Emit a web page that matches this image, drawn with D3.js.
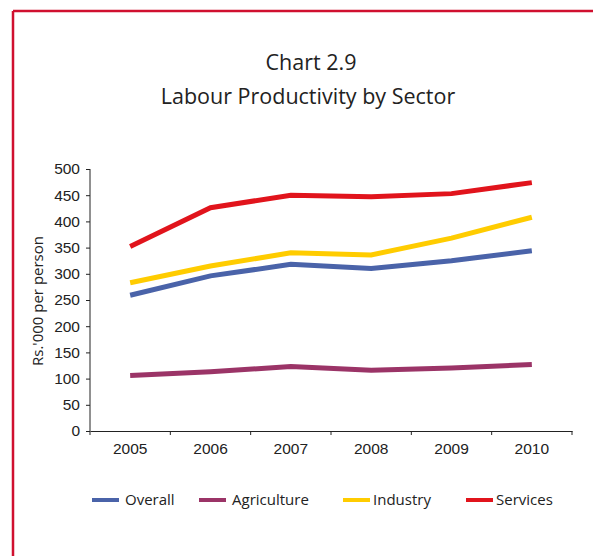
<!DOCTYPE html>
<html>
<head>
<meta charset="utf-8">
<script src="https://cdn.jsdelivr.net/npm/d3@7"></script>
<style>
  body { margin: 0; background: #fff; }
  svg { font-family: "Open Sans", "Noto Sans", sans-serif; }
  .axis path, .axis line { stroke: #222; }
  .axis text { font-size: 15.5px; fill: #222; }
</style>
</head>
<body>
<div id="chart"></div>
<script>
// values
let years = ['2005', '2006', '2007', '2008', '2009', '2010']
let overall = [259, 296, 318, 310, 325, 344]
let agriculture = [106, 113, 123, 116, 120, 127]
let industry = [283, 315, 340, 336, 368, 408]
let services = [352, 426, 450, 447, 453, 474]
let yTicks = [0, 50, 100, 150, 200, 250, 300, 350, 400, 450, 500]

let series = [
    { name: 'Overall', values: overall, color: '#4a63a9' },
    { name: 'Agriculture', values: agriculture, color: '#9b3467' },
    { name: 'Industry', values: industry, color: '#ffcc00' },
    { name: 'Services', values: services, color: '#e1141c' }
]

let width = 593
let height = 556
let margin = { top: 169, right: 21, bottom: 125, left: 90 }

let svg = d3.select('#chart')
    .append('svg')
    .attr('width', width)
    .attr('height', height)

// frame (only top and left edges show)
svg.append('line')
    .attr('x1', 13).attr('x2', width)
    .attr('y1', 11).attr('y2', 11)
    .attr('stroke', '#d0102f').attr('stroke-width', 2.5)
svg.append('line')
    .attr('x1', 13).attr('x2', 13)
    .attr('y1', 11).attr('y2', height)
    .attr('stroke', '#d0102f').attr('stroke-width', 2.5)

// titles
svg.append('text')
    .attr('x', 311).attr('y', 70)
    .attr('text-anchor', 'middle')
    .style('font-size', '21.5px').style('fill', '#222')
    .text('Chart 2.9')
svg.append('text')
    .attr('x', 308).attr('y', 104)
    .attr('text-anchor', 'middle')
    .style('font-size', '21.5px').style('fill', '#222')
    .text('Labour Productivity by Sector')

var xScale = d3.scaleBand()
    .domain(years)
    .range([margin.left, width - margin.right])

var yScale = d3.scaleLinear()
    .domain([0, 500])
    .range([height - margin.bottom, margin.top])

var yAxis = d3.axisLeft(yScale)
    .tickValues(yTicks)
    .tickSize(4)
    .tickPadding(6)

var xAxis = d3.axisBottom(xScale)
    .tickSize(0)
    .tickPadding(12)

svg.append('g')
    .attr('class', 'axis')
    .attr('transform', `translate(${margin.left},0)`)
    .call(yAxis)
    .call(g => g.select('.domain').attr('d', `M0,${yScale(500)}V${yScale(0)}`))

let xAxisEl = svg.append('g')
    .attr('class', 'axis')
    .attr('transform', `translate(0,${height - margin.bottom})`)
    .call(xAxis)

// tick marks at band edges
let edges = years.map(y => xScale(y)).concat([xScale(years[years.length - 1]) + xScale.bandwidth()])
xAxisEl.selectAll('.edge')
    .data(edges)
    .enter().append('line')
    .attr('x1', d => d).attr('x2', d => d)
    .attr('y1', 0).attr('y2', 4)
    .attr('stroke', '#222')

// y axis title
svg.append('text')
    .attr('transform', `translate(43,${yScale(250) + 1}) rotate(-90)`)
    .attr('text-anchor', 'middle')
    .style('font-size', '15px').style('fill', '#222')
    .text("Rs.'000 per person")

let line = d3.line()
    .x((d, i) => xScale(years[i]) + xScale.bandwidth() / 2)
    .y(d => yScale(d))

svg.selectAll('.series')
    .data(series)
    .enter().append('path')
    .attr('class', 'series')
    .attr('d', d => line(d.values))
    .attr('fill', 'none')
    .attr('stroke', d => d.color)
    .attr('stroke-width', 5)

// legend
let legendX = [92, 199, 343, 466]
let legend = svg.selectAll('.legend')
    .data(series)
    .enter().append('g')
    .attr('class', 'legend')
    .attr('transform', (d, i) => `translate(${legendX[i]},500)`)

legend.append('line')
    .attr('x1', 0).attr('x2', 27)
    .attr('stroke', d => d.color)
    .attr('stroke-width', 4)

legend.append('text')
    .attr('x', (d, i) => i < 2 ? 33 : 30)
    .attr('y', 5)
    .style('font-size', '15px').style('fill', '#222')
    .text(d => d.name)
</script>
</body>
</html>
